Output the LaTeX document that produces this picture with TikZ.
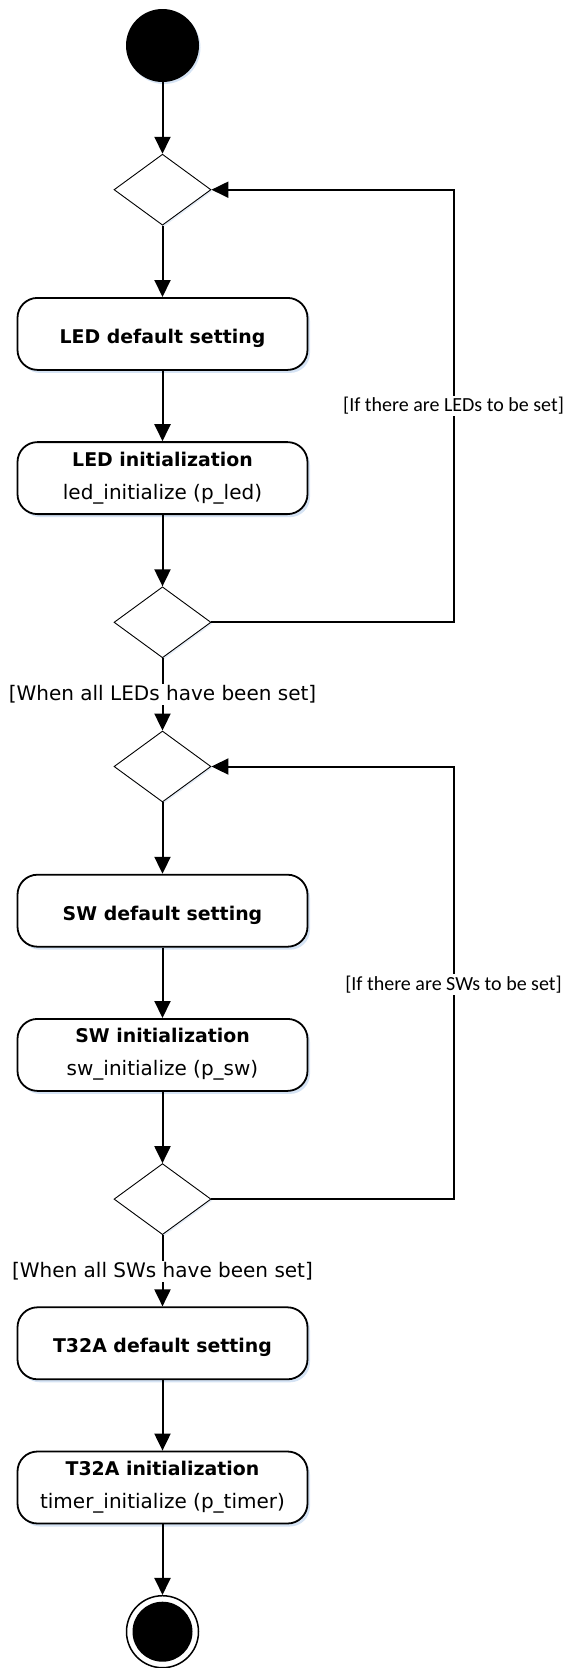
\documentclass[tikz,border=0pt]{standalone}
\usepackage{fontspec}
\setmainfont{DejaVu Sans}
\newfontfamily\carl{Carlito}
\usetikzlibrary{shapes.geometric,arrows.meta,shadows}
\definecolor{shadowblue}{HTML}{D5E3F4}
\begin{document}
\begin{tikzpicture}[x=1pt,y=-1pt,
  actbox/.style={draw, line width=1.8pt, rounded corners=20pt,
    minimum width=290pt, minimum height=72pt, inner sep=0pt, fill=white,
    drop shadow={shadow xshift=2.5pt, shadow yshift=-3pt, fill=shadowblue, opacity=1}},
  decision/.style={diamond, draw, line width=0.9pt, minimum width=97pt,
    minimum height=71pt, inner sep=0pt, fill=white,
    drop shadow={shadow xshift=1.5pt, shadow yshift=-1.5pt, fill=shadowblue!60, opacity=1}},
  initial/.style={circle, fill=black, minimum size=73pt, inner sep=0pt,
    drop shadow={shadow xshift=1.5pt, shadow yshift=-2pt, fill=shadowblue, opacity=1}},
  final/.style={circle, draw, line width=1.5pt, fill=white, minimum size=72pt, inner sep=0pt,
    path picture={\fill[black] (path picture bounding box.center) circle (30pt);}},
  boldtxt/.style={font=\fontsize{18.9}{22}\selectfont\bfseries, inner sep=0pt, anchor=base},
  codetxt/.style={font=\fontsize{20}{24}\selectfont, inner sep=0pt, anchor=base},
  guardtxt/.style={font=\fontsize{20}{24}\selectfont, fill=white, inner sep=1.5pt},
  looptxt/.style={font=\carl\fontsize{20}{24}\selectfont, fill=white, inner sep=1.5pt},
  flow/.style={line width=2pt, -{Triangle[length=17pt,width=16pt]}},
  loopline/.style={line width=2pt}
]
\useasboundingbox (0,0) rectangle (565,1668);

% nodes
\node[initial] (start) at (162.5,45.5) {};
\node[decision] (d1) at (162.5,189.7) {};
\node[actbox] (b1) at (162.5,333.9) {};
\node[actbox] (b2) at (162.5,478.1) {};
\node[decision] (d2) at (162.5,622.3) {};
\node[decision] (d3) at (162.5,766.5) {};
\node[actbox] (b3) at (162.5,910.7) {};
\node[actbox] (b4) at (162.5,1054.9) {};
\node[decision] (d4) at (162.5,1199.1) {};
\node[actbox] (b5) at (162.5,1343.3) {};
\node[actbox] (b6) at (162.5,1487.5) {};
\node[final] (end) at (162.5,1631.7) {};

% box texts
\node[boldtxt] (t1) at ([yshift=-9.5pt]b1.center) {LED default setting};
\node[boldtxt] (t2a) at ([yshift=12pt]b2.center) {LED initialization};
\node[codetxt] (t2b) at ([yshift=-21pt]b2.center) {led\_initialize (p\_led)};
\node[boldtxt] (t3) at ([yshift=-9.5pt]b3.center) {SW default setting};
\node[boldtxt] (t4a) at ([yshift=12pt]b4.center) {SW initialization};
\node[codetxt] (t4b) at ([yshift=-21pt]b4.center) {sw\_initialize (p\_sw)};
\node[boldtxt] (t5) at ([yshift=-9.5pt]b5.center) {T32A default setting};
\node[boldtxt] (t6a) at ([yshift=12pt]b6.center) {T32A initialization};
\node[codetxt] (t6b) at ([yshift=-21pt]b6.center) {timer\_initialize (p\_timer)};

% loop corner coordinates
\coordinate (r1) at (453.5,189.7);
\coordinate (r2) at (453.5,622.3);
\coordinate (r3) at (453.5,766.5);
\coordinate (r4) at (453.5,1199.1);

% connectors
\draw[flow] (start) -- (d1);
\draw[flow] (d1) -- (b1);
\draw[flow] (b1) -- (b2);
\draw[flow] (b2) -- (d2);
\draw[flow] (d2) -- (d3);
\draw[flow] (d3) -- (b3);
\draw[flow] (b3) -- (b4);
\draw[flow] (b4) -- (d4);
\draw[flow] (d4) -- (b5);
\draw[flow] (b5) -- (b6);
\draw[flow] (b6) -- (end);
\draw[flow] (d2.east) -- (r2) -- (r1) -- (d1.east);
\draw[flow] (d4.east) -- (r4) -- (r3) -- (d3.east);

% guard labels
\node[looptxt] (g1) at (453.5,405.8) {[If there are LEDs to be set]};
\node[guardtxt] (g2) at (162.5,694.5) {[When all LEDs have been set]};
\node[looptxt] (g3) at (453.5,984.5) {[If there are SWs to be set]};
\node[guardtxt] (g4) at (162.5,1271.5) {[When all SWs have been set]};
\end{tikzpicture}
\end{document}
